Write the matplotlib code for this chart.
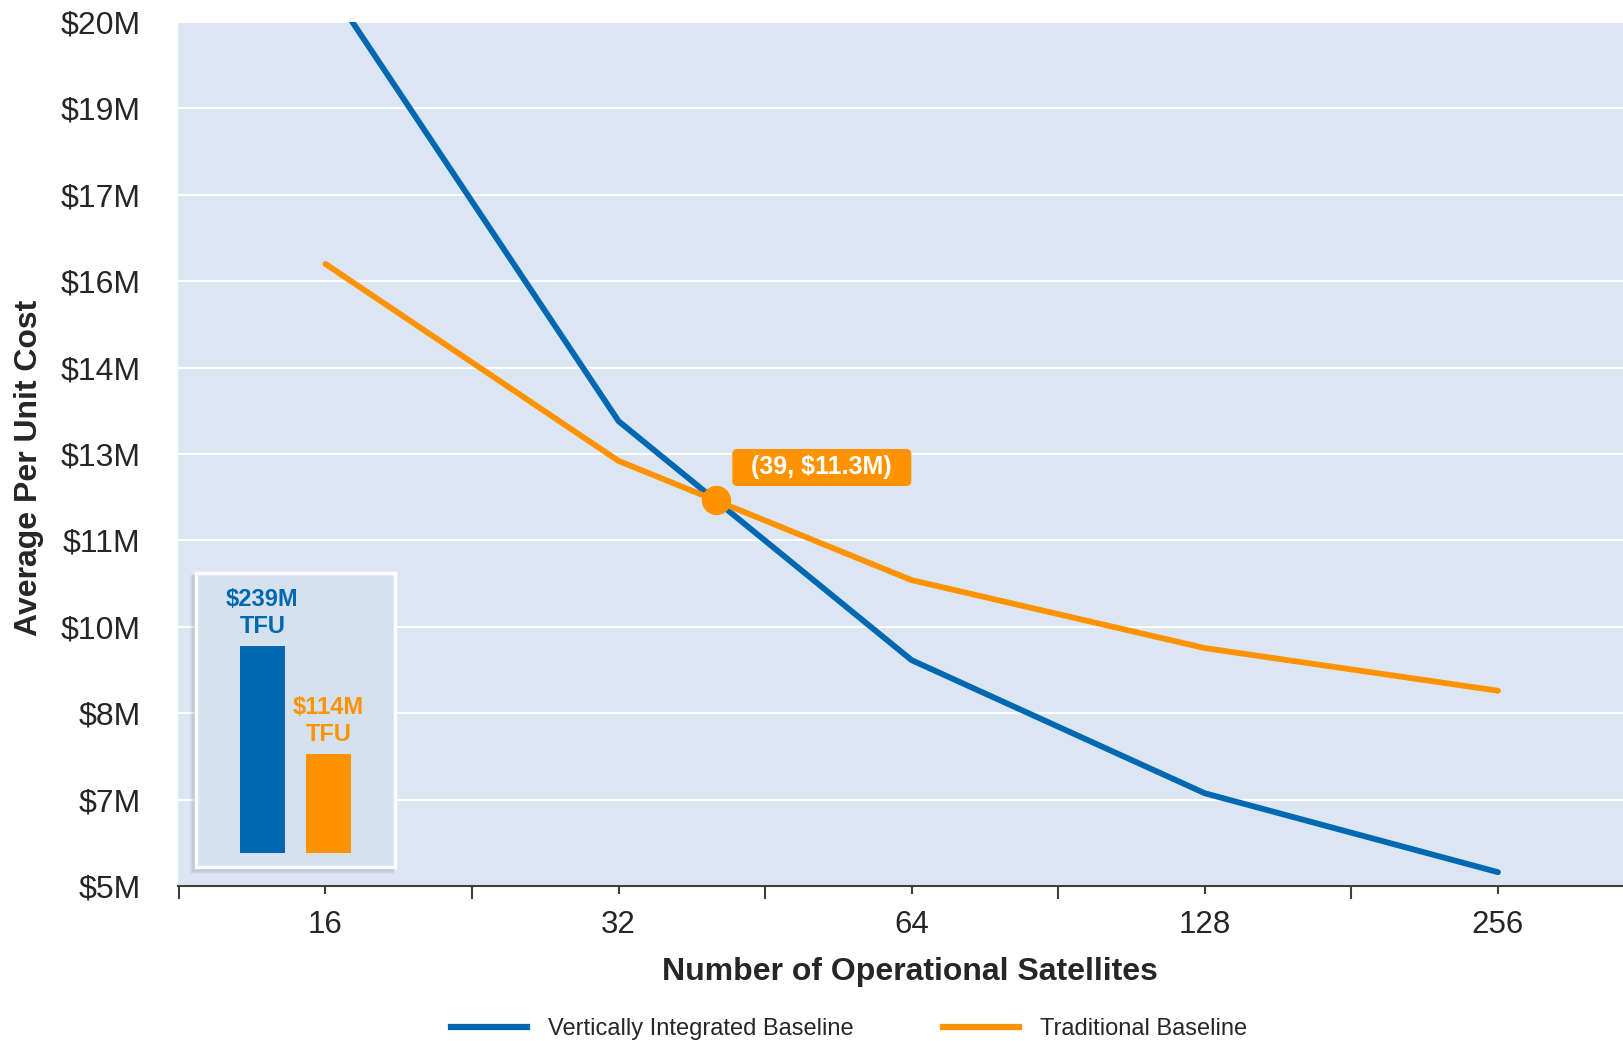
import numpy as np
import matplotlib
matplotlib.use("Agg")
import matplotlib.pyplot as plt
from matplotlib.patches import FancyBboxPatch, Rectangle
from matplotlib.lines import Line2D
from matplotlib.ticker import NullFormatter
from matplotlib.transforms import IdentityTransform

plt.rcParams['font.family'] = ['Liberation Sans', 'DejaVu Sans']

# data
satellites = [16, 32, 64, 128, 256]
vertical_cost = [20.7, 13.07, 8.92, 6.61, 5.24]      # $M per unit
traditional_cost = [15.80, 12.38, 10.31, 9.13, 8.39]  # $M per unit
series_names = ['Vertically Integrated Baseline', 'Traditional Baseline']

y_ticks = [5, 6.5, 8, 9.5, 11, 12.5, 14, 15.5, 17, 18.5, 20]
y_tick_labels = ['$5M', '$7M', '$8M', '$10M', '$11M', '$13M', '$14M',
                 '$16M', '$17M', '$19M', '$20M']

tfu_values = [239, 114]
tfu_labels = ['$239M\nTFU', '$114M\nTFU']
cross_label = '(39, $11.3M)'

blue = '#0067b1'
orange = '#ff9200'
bg = '#dce6f2'
txt = '#262626'

W, H = 1624, 1041
fig = plt.figure(figsize=(W / 100, H / 100), dpi=100)
ax = fig.add_axes([178 / W, 1 - 886 / H, 1 - 178 / W, (886 - 22) / H])
ax.set_facecolor(bg)
ax.set_xscale('log', base=2)
ax.set_xlim(16 / 2 ** 0.503, 256 * 2 ** 0.43)
ax.set_ylim(5, 20)

ax.set_yticks(y_ticks, y_tick_labels)
ax.grid(axis='y', color='white', lw=1.5)
ax.set_axisbelow(True)
for s in ['top', 'left', 'right']:
    ax.spines[s].set_visible(False)
ax.spines['bottom'].set_color('#404040')
ax.spines['bottom'].set_linewidth(1.5)
ax.tick_params(axis='y', length=0, pad=27, labelsize=23, labelcolor=txt)

ax.set_xticks(satellites, [str(s) for s in satellites])
ax.set_xticks([s / np.sqrt(2) for s in satellites], minor=True)
ax.xaxis.set_minor_formatter(NullFormatter())
ax.tick_params(axis='x', which='major', length=6, width=1.5, color='#404040',
               labelsize=22.5, labelcolor=txt, pad=11)
ax.tick_params(axis='x', which='minor', length=9, width=1.5, color='#404040')

ax.plot(satellites, vertical_cost, color=blue, lw=4.2, solid_capstyle='round')
ax.plot(satellites, traditional_cost, color=orange, lw=4.2, solid_capstyle='round')

# crossing point of the two curves
lx = np.log2(satellites)
d = np.array(vertical_cost) - np.array(traditional_cost)
i = np.where(np.diff(np.sign(d)) != 0)[0][0]
t = d[i] / (d[i] - d[i + 1])
cross_x = 2 ** (lx[i] + t * (lx[i + 1] - lx[i]))
cross_y = vertical_cost[i] + t * (vertical_cost[i + 1] - vertical_cost[i])
ax.plot(cross_x, cross_y, 'o', ms=20, color=orange, zorder=5)

px, py = ax.transData.transform((cross_x, cross_y))
cx, cy = px + 106, py + 33
bw, bh = 179, 37
box = FancyBboxPatch((cx - bw / 2, cy - bh / 2), bw, bh,
                     boxstyle='round,pad=0,rounding_size=5',
                     fc=orange, ec='none', transform=IdentityTransform(), zorder=3)
fig.add_artist(box)
fig.text(cx, cy, cross_label, transform=IdentityTransform(), ha='center',
         va='center', fontsize=18, fontweight='bold', color='white', zorder=4)

# inset with TFU bars
for k in range(1, 6):
    sh = Rectangle((196 - k - 1, H - 867 - k - 2), 199 + k, 294 + k,
                   fc='#5a6578', ec='none', alpha=0.06,
                   transform=IdentityTransform(), zorder=1)
    fig.add_artist(sh)
ins = fig.add_axes([196 / W, 1 - 867 / H, 199 / W, 294 / H])
ins.set_zorder(2)
ins.set_facecolor('#d6e1ee')
ins.bar([0, 1], tfu_values, width=0.68, color=[blue, orange])
ins.set_xlim(-1.0, 2.0)
ins.set_ylim(-16.2, 323.3)
ins.set_xticks([])
ins.set_yticks([])
for s in ins.spines.values():
    s.set_color('white')
    s.set_linewidth(2.5)
for xi, v, lab, c in zip([0, 1], tfu_values, tfu_labels, [blue, orange]):
    ins.annotate(lab, (xi, v), xytext=(0, 6), textcoords='offset points',
                 ha='center', va='bottom', fontsize=17, fontweight='bold',
                 color=c, linespacing=1.2)

fig.text(910 / W, 1 - 972 / H, 'Number of Operational Satellites', ha='center',
         va='center', fontsize=23, fontweight='bold', color=txt)
fig.text(29 / W, 1 - 468 / H, 'Average Per Unit Cost', ha='center', va='center',
         rotation=90, fontsize=23, fontweight='bold', color=txt)

handles = [Line2D([], [], color=blue, lw=4.5), Line2D([], [], color=orange, lw=4.5)]
fig.legend(handles, series_names, loc='center', bbox_to_anchor=(849 / W, 1 - 1029 / H),
           ncol=2, frameon=False, fontsize=17, handlelength=3.2, handletextpad=0.9,
           columnspacing=3.8, labelcolor=txt, borderpad=0)

fig.savefig('out.png', dpi=100)
